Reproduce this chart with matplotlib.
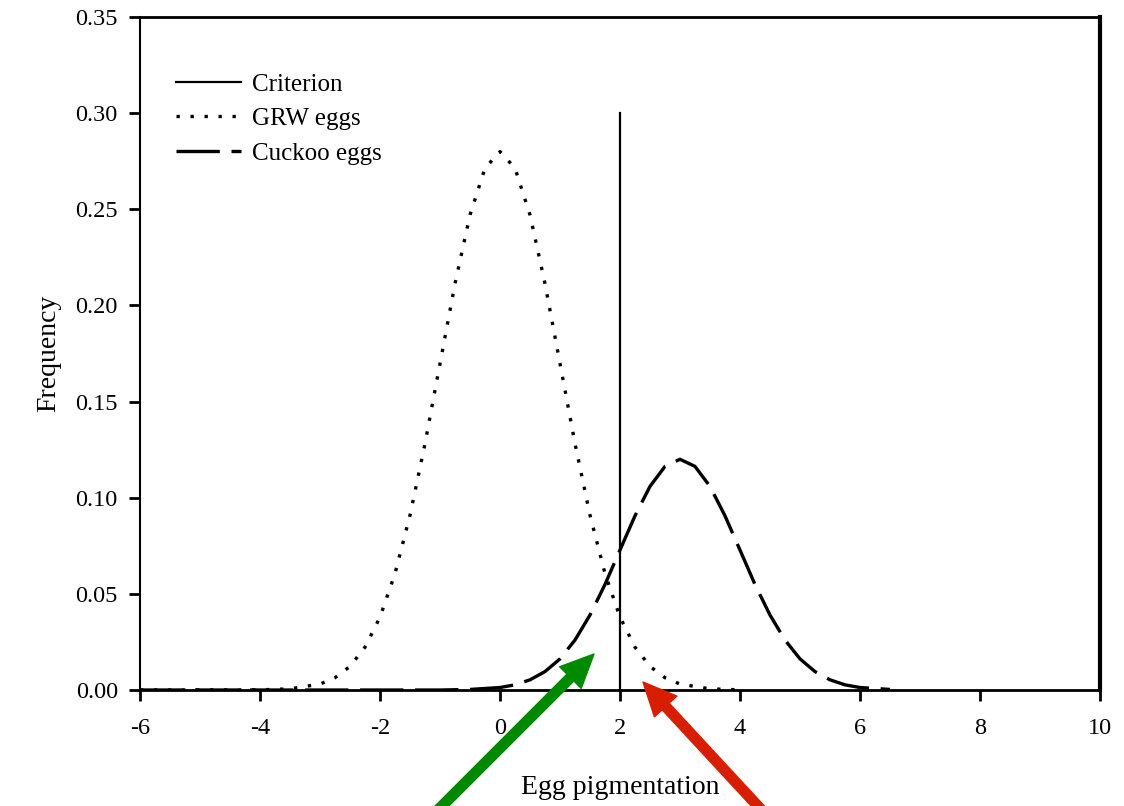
import matplotlib
matplotlib.use("Agg")
import matplotlib.pyplot as plt

plt.rcParams['font.family'] = ['Liberation Serif', 'DejaVu Serif']
plt.rcParams['axes.unicode_minus'] = False

# values
grw_x = [-6.0, -4.0, -3.5, -3.0, -2.75, -2.5, -2.25, -2.0, -1.75, -1.5, -1.25, -1.0,
         -0.75, -0.5, -0.25, 0.0, 0.25, 0.5, 0.75, 1.0, 1.25, 1.5, 1.75, 2.0,
         2.25, 2.5, 2.75, 3.0, 3.5, 4.0]
grw_y = [0.0, 0.0001, 0.0006, 0.0031, 0.0064, 0.0123, 0.0223, 0.0379, 0.0606, 0.0909, 0.1282, 0.1698,
         0.2113, 0.2471, 0.2714, 0.280, 0.2714, 0.2471, 0.2113, 0.1698, 0.1282, 0.0909, 0.0606, 0.0379,
         0.0223, 0.0123, 0.0064, 0.0031, 0.0006, 0.0001]

cuckoo_x = [-6.0, -1.0, -0.5, 0.0, 0.25, 0.5, 0.75, 1.0, 1.25, 1.5, 1.75, 2.0, 2.25, 2.5, 2.75,
            3.0, 3.25, 3.5, 3.75, 4.0, 4.25, 4.5, 4.75, 5.0, 5.25, 5.5, 5.75, 6.0, 6.5]
cuckoo_y = [0.0, 0.0, 0.0003, 0.0013, 0.0027, 0.0053, 0.0096, 0.0162, 0.0260, 0.0390, 0.0549, 0.0728,
            0.0906, 0.1059, 0.1163, 0.120, 0.1163, 0.1059, 0.0906, 0.0728, 0.0549, 0.0390, 0.0260,
            0.0162, 0.0096, 0.0053, 0.0027, 0.0013, 0.0003]

criterion_x = 2.0
criterion_top = 0.30

x_ticks = [-6, -4, -2, 0, 2, 4, 6, 8, 10]
y_ticks = [0.00, 0.05, 0.10, 0.15, 0.20, 0.25, 0.30, 0.35]

fig = plt.figure(figsize=(11.24, 8.06), dpi=100)
ax = fig.add_axes([0.1246, 0.1439, 0.854, 0.835])

ax.plot([criterion_x, criterion_x], [0, criterion_top], color='black', lw=1.6, label='Criterion')
ax.plot(grw_x, grw_y, color='black', lw=2.4, linestyle=(0, (1, 3.2)), label='GRW eggs')
ax.plot(cuckoo_x, cuckoo_y, color='black', lw=2.4, linestyle=(0, (13, 3.5)), label='Cuckoo eggs')

ax.set_xlim(-6, 10)
ax.set_ylim(0, 0.35)
ax.set_xticks(x_ticks)
ax.set_xticklabels([str(t) for t in x_ticks])
ax.set_yticks(y_ticks)
ax.set_yticklabels(['%.2f' % t for t in y_ticks])
ax.tick_params(direction='out', length=8, width=2, labelsize=17.5)
ax.tick_params(axis='x', pad=12)
ax.tick_params(axis='y', pad=8)

ax.spines['left'].set_linewidth(1.5)
ax.spines['bottom'].set_linewidth(2)
ax.spines['top'].set_linewidth(2)
ax.spines['right'].set_linewidth(3)

ax.set_xlabel('Egg pigmentation', fontsize=20, labelpad=26)
ax.set_ylabel('Frequency', fontsize=20, labelpad=10)

leg = ax.legend(loc='upper left', bbox_to_anchor=(0.014, 0.95), frameon=False,
                fontsize=18, handlelength=2.6, handletextpad=0.45, labelspacing=0.48)

# annotation arrows pointing at the two error regions
ax.annotate('', xy=(594, 806 - 654), xycoords='figure pixels',
            xytext=(418, 806 - 830), textcoords='figure pixels',
            arrowprops=dict(facecolor='#008a00', edgecolor='#008a00', width=7,
                            headwidth=22, headlength=24), annotation_clip=False)
ax.annotate('', xy=(643, 806 - 682), xycoords='figure pixels',
            xytext=(780, 806 - 830), textcoords='figure pixels',
            arrowprops=dict(facecolor='#d81e00', edgecolor='#d81e00', width=7,
                            headwidth=22, headlength=24), annotation_clip=False)

fig.savefig('out.png', dpi=100)
